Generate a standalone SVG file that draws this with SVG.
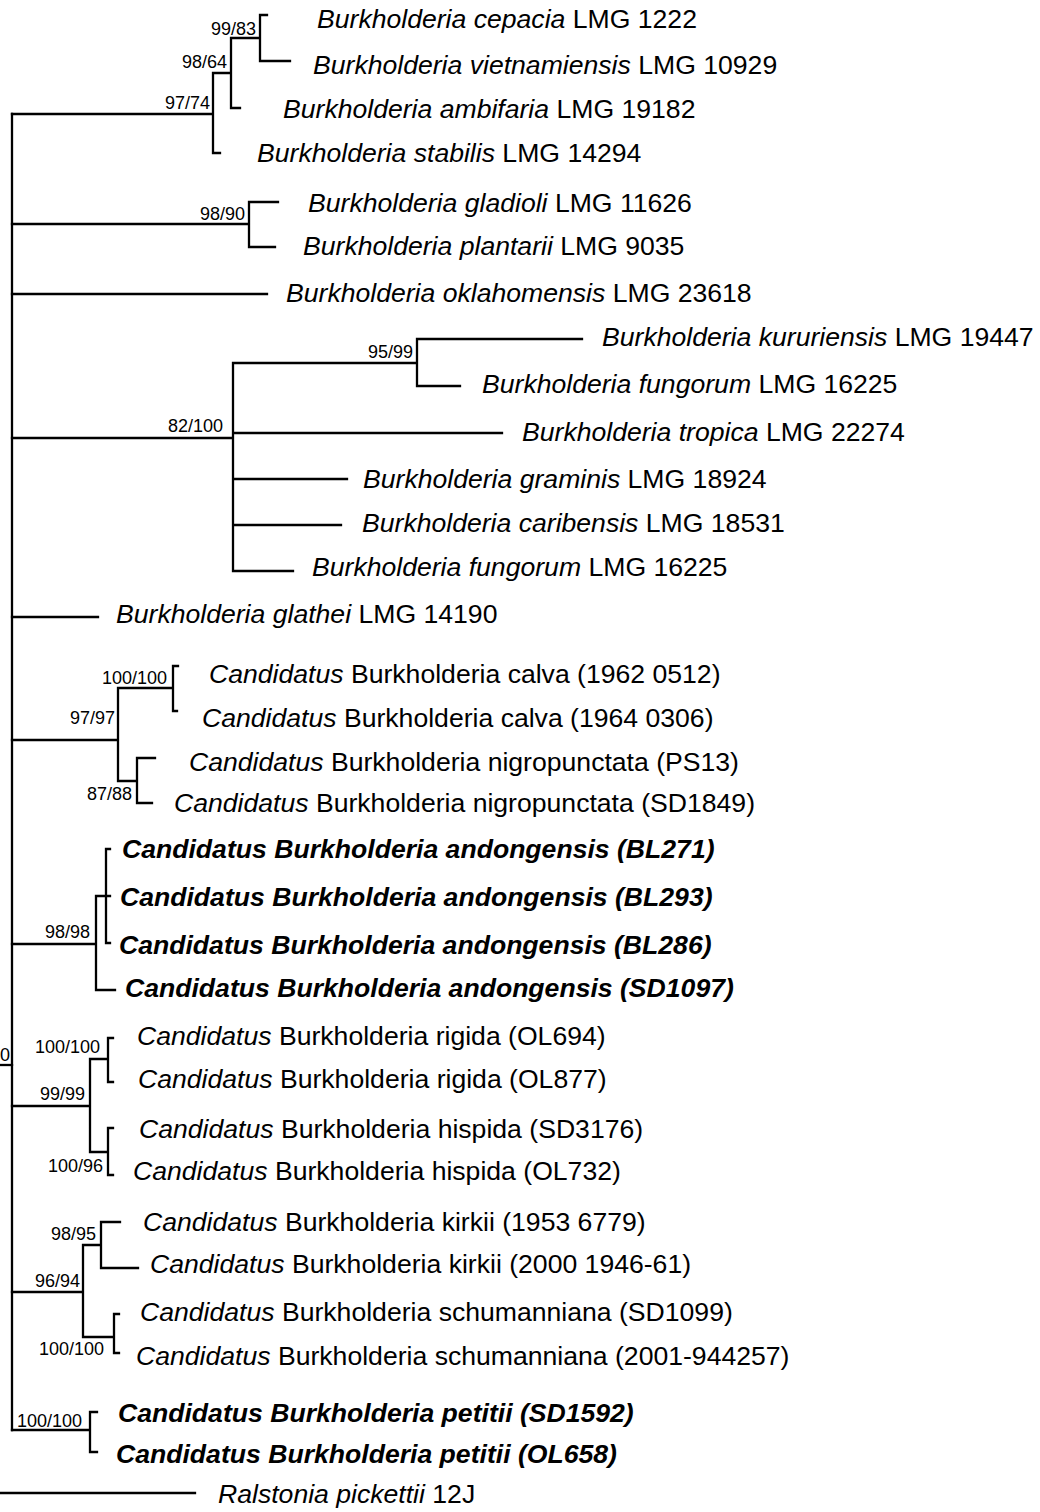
<svg xmlns="http://www.w3.org/2000/svg" width="1040" height="1512" viewBox="0 0 1040 1512">
<style>
.t{font-family:"Liberation Sans",Arial,sans-serif;font-size:26.6px;fill:#000}
.i{font-style:italic}
.b{font-weight:bold;font-style:italic}
.bs{font-family:"Liberation Sans",Arial,sans-serif;font-size:18px;fill:#000;text-anchor:end}
.br{fill:none;stroke:#000;stroke-width:2.3;stroke-linecap:square;stroke-linejoin:miter}
</style>
<rect width="1040" height="1512" fill="#fff"/>
<g id="connectors" class="br">
<path d="M12,114 V1430"/>
<path d="M0,1065 H12"/>
<path d="M0,1493 H195"/>
<path d="M12,114 H213 M220,153 H213 V73 H231 M240,108 H231 V38 H260 M267,15 H260 V61 H290"/>
<path d="M12,224 H249 M278,202 H249 V247 H275"/>
<path d="M12,294 H267"/>
<path d="M12,438 H233 M293,571 H233 V363 H417 M582,339 H417 V386 H460 M233,433 H502 M233,479 H347 M233,525 H341"/>
<path d="M12,617 H98"/>
<path d="M12,740 H118 M118,688 V781 M118,688 H173 M178,666 H173 V711 H177 M118,781 H137 M155,758 H137 V803 H152"/>
<path d="M12,944 H96 M115,990 H96 V896 H110 M110,849 H106 V943 H110"/>
<path d="M12,1106 H90 M90,1059 V1152 M90,1059 H108 M113,1038 H108 V1082 H113 M90,1152 H108 M113,1128 H108 V1175 H113"/>
<path d="M12,1292 H83 M83,1245 V1337 M83,1245 H101 M120,1222 H101 V1268 H138 M83,1337 H114 M119,1314 H114 V1353 H119"/>
<path d="M12,1430 H90 M97,1412 H90 V1452 H97"/>
</g>
<g id="n-root"><text class="bs" x="0" y="1061" style="text-anchor:start">0</text></g>
<g id="n-9774"><text class="bs" x="210" y="109">97/74</text></g>
<g id="n-9864"><text class="bs" x="227" y="68">98/64</text></g>
<g id="n-9983"><text class="bs" x="256" y="35">99/83</text></g>
<g id="n-9890"><text class="bs" x="245" y="220">98/90</text></g>
<g id="n-82100"><text class="bs" x="223" y="432">82/100</text></g>
<g id="n-9599"><text class="bs" x="413" y="358">95/99</text></g>
<g id="n-9797"><text class="bs" x="115" y="724">97/97</text></g>
<g id="n-calva"><text class="bs" x="167" y="684">100/100</text></g>
<g id="n-8788"><text class="bs" x="132" y="800">87/88</text></g>
<g id="n-9898"><text class="bs" x="90" y="938">98/98</text></g>
<g id="n-9999"><text class="bs" x="85" y="1100">99/99</text></g>
<g id="n-rigida"><text class="bs" x="100" y="1053">100/100</text></g>
<g id="n-10096"><text class="bs" x="103" y="1172">100/96</text></g>
<g id="n-9694"><text class="bs" x="80" y="1287">96/94</text></g>
<g id="n-9895"><text class="bs" x="96" y="1240">98/95</text></g>
<g id="n-schum"><text class="bs" x="104" y="1355">100/100</text></g>
<g id="n-petitii"><text class="bs" x="82" y="1427">100/100</text></g>

<g id="tip-cepacia"><text class="t" x="317" y="28"><tspan class="i">Burkholderia cepacia</tspan> LMG 1222</text></g>
<g id="tip-vietnamiensis"><text class="t" x="313" y="74"><tspan class="i">Burkholderia vietnamiensis</tspan> LMG 10929</text></g>
<g id="tip-ambifaria"><text class="t" x="283" y="118"><tspan class="i">Burkholderia ambifaria</tspan> LMG 19182</text></g>
<g id="tip-stabilis"><text class="t" x="257" y="162"><tspan class="i">Burkholderia stabilis</tspan> LMG 14294</text></g>
<g id="tip-gladioli"><text class="t" x="308" y="212"><tspan class="i">Burkholderia gladioli</tspan> LMG 11626</text></g>
<g id="tip-plantarii"><text class="t" x="303" y="255"><tspan class="i">Burkholderia plantarii</tspan> LMG 9035</text></g>
<g id="tip-oklahomensis"><text class="t" x="286" y="302"><tspan class="i">Burkholderia oklahomensis</tspan> LMG 23618</text></g>
<g id="tip-kururiensis"><text class="t" x="602" y="346"><tspan class="i">Burkholderia kururiensis</tspan> LMG 19447</text></g>
<g id="tip-fungorum1"><text class="t" x="482" y="393"><tspan class="i">Burkholderia fungorum</tspan> LMG 16225</text></g>
<g id="tip-tropica"><text class="t" x="522" y="441"><tspan class="i">Burkholderia tropica</tspan> LMG 22274</text></g>
<g id="tip-graminis"><text class="t" x="363" y="488"><tspan class="i">Burkholderia graminis</tspan> LMG 18924</text></g>
<g id="tip-caribensis"><text class="t" x="362" y="532"><tspan class="i">Burkholderia caribensis</tspan> LMG 18531</text></g>
<g id="tip-fungorum2"><text class="t" x="312" y="576"><tspan class="i">Burkholderia fungorum</tspan> LMG 16225</text></g>
<g id="tip-glathei"><text class="t" x="116" y="623"><tspan class="i">Burkholderia glathei</tspan> LMG 14190</text></g>
<g id="tip-calva1"><text class="t" x="209" y="683"><tspan class="i">Candidatus</tspan> Burkholderia calva (1962 0512)</text></g>
<g id="tip-calva2"><text class="t" x="202" y="727"><tspan class="i">Candidatus</tspan> Burkholderia calva (1964 0306)</text></g>
<g id="tip-nigro1"><text class="t" x="189" y="771"><tspan class="i">Candidatus</tspan> Burkholderia nigropunctata (PS13)</text></g>
<g id="tip-nigro2"><text class="t" x="174" y="812"><tspan class="i">Candidatus</tspan> Burkholderia nigropunctata (SD1849)</text></g>
<g id="tip-andong1"><text class="t b" x="122" y="858">Candidatus Burkholderia andongensis (BL271)</text></g>
<g id="tip-andong2"><text class="t b" x="120" y="906">Candidatus Burkholderia andongensis (BL293)</text></g>
<g id="tip-andong3"><text class="t b" x="119" y="954">Candidatus Burkholderia andongensis (BL286)</text></g>
<g id="tip-andong4"><text class="t b" x="125" y="997">Candidatus Burkholderia andongensis (SD1097)</text></g>
<g id="tip-rigida1"><text class="t" x="137" y="1045"><tspan class="i">Candidatus</tspan> Burkholderia rigida (OL694)</text></g>
<g id="tip-rigida2"><text class="t" x="138" y="1088"><tspan class="i">Candidatus</tspan> Burkholderia rigida (OL877)</text></g>
<g id="tip-hispida1"><text class="t" x="139" y="1138"><tspan class="i">Candidatus</tspan> Burkholderia hispida (SD3176)</text></g>
<g id="tip-hispida2"><text class="t" x="133" y="1180"><tspan class="i">Candidatus</tspan> Burkholderia hispida (OL732)</text></g>
<g id="tip-kirkii1"><text class="t" x="143" y="1231"><tspan class="i">Candidatus</tspan> Burkholderia kirkii (1953 6779)</text></g>
<g id="tip-kirkii2"><text class="t" x="150" y="1273"><tspan class="i">Candidatus</tspan> Burkholderia kirkii (2000 1946-61)</text></g>
<g id="tip-schum1"><text class="t" x="140" y="1321"><tspan class="i">Candidatus</tspan> Burkholderia schumanniana (SD1099)</text></g>
<g id="tip-schum2"><text class="t" x="136" y="1365"><tspan class="i">Candidatus</tspan> Burkholderia schumanniana (2001-944257)</text></g>
<g id="tip-petitii1"><text class="t b" x="118" y="1422">Candidatus Burkholderia petitii (SD1592)</text></g>
<g id="tip-petitii2"><text class="t b" x="116" y="1463">Candidatus Burkholderia petitii (OL658)</text></g>
<g id="tip-ralstonia"><text class="t" x="218" y="1503"><tspan class="i">Ralstonia pickettii</tspan> 12J</text></g>
</svg>
